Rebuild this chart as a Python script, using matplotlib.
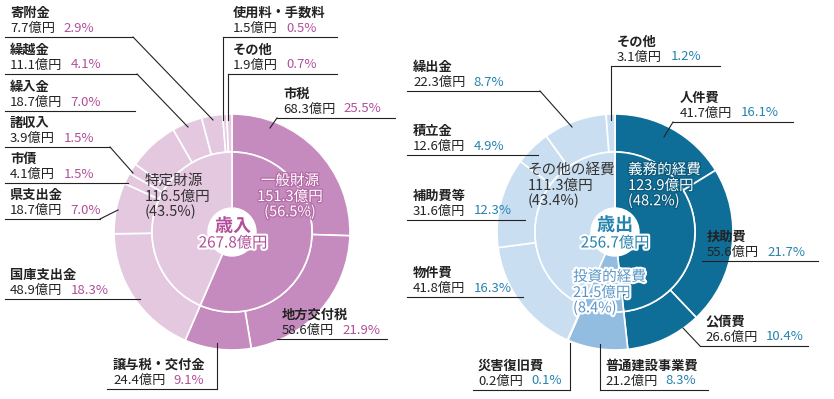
import matplotlib
matplotlib.use("Agg")
import matplotlib.pyplot as plt
import matplotlib.patheffects as pe

plt.rcParams['font.family'] = ['Noto Sans CJK JP', 'DejaVu Sans']

# 歳入
rev_labels = ['市税', '地方交付税', '譲与税・交付金', '国庫支出金', '県支出金', '市債',
              '諸収入', '繰入金', '繰越金', '寄附金', '使用料・手数料', 'その他']
rev_values = [68.3, 58.6, 24.4, 48.9, 18.7, 4.1, 3.9, 18.7, 11.1, 7.7, 1.5, 1.9]
rev_pcts = [25.5, 21.9, 9.1, 18.3, 7.0, 1.5, 1.5, 7.0, 4.1, 2.9, 0.5, 0.7]
rev_groups = ['一般財源', '特定財源']
rev_group_values = [151.3, 116.5]
rev_group_pcts = [56.5, 43.5]
rev_group_of = [0, 0, 0, 1, 1, 1, 1, 1, 1, 1, 1, 1]
rev_total = 267.8

# 歳出
exp_labels = ['人件費', '扶助費', '公債費', '普通建設事業費', '災害復旧費', '物件費',
              '補助費等', '積立金', '繰出金', 'その他']
exp_values = [41.7, 55.6, 26.6, 21.2, 0.2, 41.8, 31.6, 12.6, 22.3, 3.1]
exp_pcts = [16.1, 21.7, 10.4, 8.3, 0.1, 16.3, 12.3, 4.9, 8.7, 1.2]
exp_groups = ['義務的経費', '投資的経費', 'その他の経費']
exp_group_values = [123.9, 21.5, 111.3]
exp_group_pcts = [48.2, 8.4, 43.4]
exp_group_of = [0, 0, 0, 1, 1, 2, 2, 2, 2, 2]
exp_total = 256.7

rev_colors = ['#c68bbe', '#e4c8e0']
exp_colors = ['#0f6e97', '#93bde0', '#c9def1']
pink = '#b24f99'
blue = '#2683ae'
dark = '#222222'

# label layout: text x, underline y, underline x0, x1, leader (x_start, x_end, y_end)
rev_layout = [
    (283, 118, 277, 395, (277, 270, 128)),
    (282, 339, 277, 387, None),
    (113, 389, 107, 217, (217, 217, 343)),
    (10, 299, 5, 140, None),
    (10, 219, 5, 100, (100, 118, 210)),
    (10, 183, 5, 128, None),
    (10, 147, 5, 110, (110, 133, 173)),
    (10, 111, 5, 135, None),
    (10, 74, 5, 137, (137, 188, 127)),
    (10, 37, 5, 133, (133, 213, 120)),
    (233, 37, 223, 337, (223, 223, 120)),
    (233, 74, 228, 337, (228, 228, 120)),
]
exp_layout = [
    (680, 122, 673, 793, (673, 664, 137)),
    (707, 261, 702, 818, None),
    (705, 346, 700, 808, (700, 683, 328)),
    (605, 390, 600, 708, (600, 600, 344)),
    (478, 390, 473, 570, (570, 570, 343)),
    (413, 297, 407, 523, None),
    (413, 220, 407, 525, None),
    (413, 155, 407, 538, None),
    (413, 91, 407, 540, (540, 572, 127)),
    (617, 66, 611, 720, (611, 611, 120)),
]

fig = plt.figure(figsize=(8.34, 3.99), dpi=100)
ax = fig.add_axes([0, 0, 1, 1])

wp = dict(edgecolor='white', linewidth=1.2)


def donut(center, values, group_values, group_of, colors):
    # y axis is inverted, so counterclock=True draws clockwise on screen
    ax.pie(values, colors=[colors[g] for g in group_of], center=center, radius=118,
           startangle=270, counterclock=True, wedgeprops=dict(width=38, **wp))
    ax.pie(group_values, colors=colors, center=center, radius=80,
           startangle=270, counterclock=True, wedgeprops=dict(width=80, **wp))
    ax.add_patch(plt.Circle(center, 24, color='white', zorder=3))


def labels(names, values, pcts, layout, pcolor):
    for name, v, p, (tx, uy, x0, x1, lead) in zip(names, values, pcts, layout):
        ax.text(tx, uy - 24, name, fontsize=9.5, fontweight='bold', color=dark,
                ha='left', va='center')
        t = ax.text(tx, uy - 9, f'{v:.1f}億円', fontsize=9.5, color=dark,
                    ha='left', va='center')
        ax.annotate(f'{p:.1f}%', xy=(1, 0.5), xycoords=t, xytext=(6, 0),
                    textcoords='offset points', fontsize=9.5, color=pcolor,
                    ha='left', va='center')
        ax.plot([x0, x1], [uy, uy], color=dark, lw=0.8)
        if lead:
            ax.plot([lead[0], lead[1]], [uy, lead[2]], color=dark, lw=0.8)


donut((232, 232), rev_values, rev_group_values, rev_group_of, rev_colors)
donut((615, 232), exp_values, exp_group_values, exp_group_of, exp_colors)
labels(rev_labels, rev_values, rev_pcts, rev_layout, pink)
labels(exp_labels, exp_values, exp_pcts, exp_layout, blue)

# center texts
white_pink = [pe.withStroke(linewidth=1.8, foreground='#b46aa6')]
white_blue = [pe.withStroke(linewidth=1.8, foreground='#0b5a7c')]
halo = [pe.withStroke(linewidth=3, foreground='white')]


def group_text(x, y, name, val, pct, ha, color, effects=None):
    for dy, s in zip([0, 16, 31], [name, f'{val:.1f}億円', f'({pct:.1f}%)']):
        ax.text(x, y + dy, s, fontsize=10.5, color=color, ha=ha, va='center',
                zorder=5, path_effects=effects)


group_text(145, 181, rev_groups[1], rev_group_values[1], rev_group_pcts[1], 'left', '#333333')
group_text(290, 181, rev_groups[0], rev_group_values[0], rev_group_pcts[0], 'center', 'white', white_pink)
group_text(528, 170, exp_groups[2], exp_group_values[2], exp_group_pcts[2], 'left', '#333333')
group_text(628, 170, exp_groups[0], exp_group_values[0], exp_group_pcts[0], 'left', 'white', white_blue)
group_text(573, 277, exp_groups[1], exp_group_values[1], exp_group_pcts[1], 'left', '#5a97c8', halo)

ax.text(233, 226, '歳入', fontsize=13, fontweight='bold', color=pink, ha='center',
        va='center', zorder=6, path_effects=halo)
ax.text(233, 243, f'{rev_total:.1f}億円', fontsize=11, color=pink, ha='center',
        va='center', zorder=6, path_effects=halo)
ax.text(615, 225, '歳出', fontsize=13, fontweight='bold', color=blue, ha='center',
        va='center', zorder=6, path_effects=halo)
ax.text(615, 243, f'{exp_total:.1f}億円', fontsize=11, color=blue, ha='center',
        va='center', zorder=6, path_effects=halo)

ax.set_xlim(0, 834)
ax.set_ylim(399, 0)
ax.set_aspect('equal')
ax.axis('off')
fig.savefig('out.png', dpi=100)
